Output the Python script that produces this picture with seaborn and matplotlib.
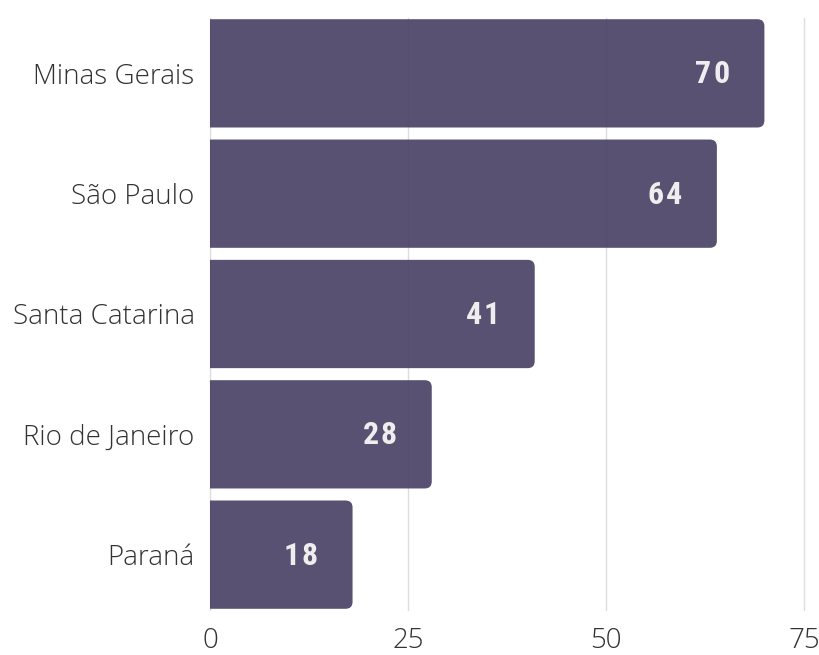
import matplotlib
matplotlib.use("Agg")
import matplotlib.pyplot as plt
from matplotlib import font_manager
from matplotlib.font_manager import FontProperties
from matplotlib.patches import FancyBboxPatch
import seaborn as sns
import pandas as pd

states = ["Minas Gerais", "São Paulo", "Santa Catarina", "Rio de Janeiro", "Paraná"]
values = [70, 64, 41, 28, 18]
x_ticks = [0, 25, 50, 75]

df = pd.DataFrame({"state": states, "value": values})

sns.set_theme(style="white")
names = {f.name for f in font_manager.fontManager.ttflist}
label_font = "Open Sans" if "Open Sans" in names else "DejaVu Sans"
value_font = "Roboto Condensed" if "Roboto Condensed" in names else "Roboto"
plt.rcParams["font.family"] = [label_font, "DejaVu Sans"]

fig = plt.figure(figsize=(8.2, 6.55), dpi=100)
ax = fig.add_axes([210 / 820, 1 - 610 / 655, 594 / 820, 592 / 655])

bar_color = "#473e62"
sns.barplot(data=df, x="value", y="state", orient="h", color=bar_color,
            width=0.9, saturation=1, ax=ax, zorder=2)

ax.set_xlim(0, 75)
ax.set_ylim(4.46, -0.46)

# replace bars with right-rounded boxes
x_per_px = 75 / 594
y_per_px = 4.92 / 592
r = 7 * x_per_px
aspect = y_per_px / x_per_px
for p in list(ax.patches):
    x0, y0 = p.get_x(), p.get_y()
    w, h = p.get_width(), p.get_height()
    p.remove()
    fb = FancyBboxPatch((x0 - r, y0), w + r, h,
                        boxstyle=f"round,pad=0,rounding_size={r}",
                        mutation_aspect=aspect, facecolor=bar_color,
                        edgecolor="none", alpha=0.9, zorder=2, clip_on=True)
    ax.add_patch(fb)

# value labels with letter spacing
renderer = fig.canvas.get_renderer()
vprop = FontProperties(family=value_font, weight="bold", size=23)
tracking = 1.8
for i, v in enumerate(values):
    s = str(v)
    offset = -35
    for ch in reversed(s):
        w_px, _, _ = renderer.get_text_width_height_descent(ch, vprop, ismath=False)
        ax.annotate(ch, xy=(v, i), xytext=(offset, 2), textcoords="offset pixels",
                    ha="right", va="center_baseline", fontproperties=vprop,
                    color="#eeeeee", zorder=3)
        offset -= w_px + tracking

ax.set_xticks(x_ticks)
ax.set_xticklabels([str(t) for t in x_ticks])
ax.grid(axis="x", color="#dddddd", linewidth=1, zorder=0)
for gl in ax.get_xgridlines():
    gl.set_clip_on(False)
ax.grid(axis="y", visible=False)
ax.set_axisbelow(True)
for s in ax.spines.values():
    s.set_visible(False)
ax.tick_params(axis="both", length=0, labelsize=20, labelcolor="#333333")
ax.tick_params(axis="x", pad=12)
ax.tick_params(axis="y", pad=11)
for lab in ax.get_xticklabels() + ax.get_yticklabels():
    lab.set_fontweight("light")
ax.set_xlabel("")
ax.set_ylabel("")

fig.savefig("out.png", dpi=100)
